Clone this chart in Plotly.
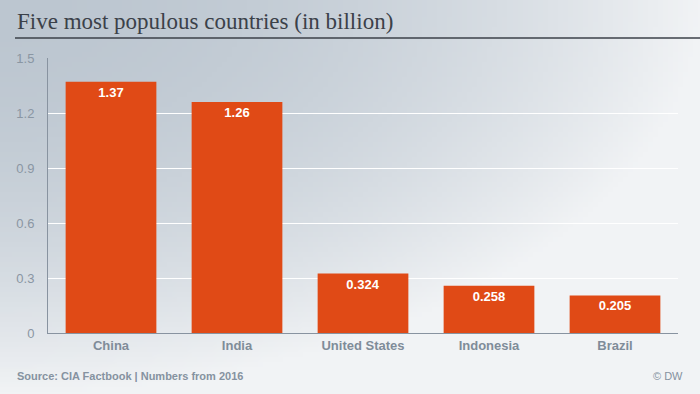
import base64, struct, zlib, math
import plotly.graph_objects as go

countries = ["China", "India", "United States", "Indonesia", "Brazil"]
population_bn = [1.37, 1.26, 0.324, 0.258, 0.205]
value_labels = ["1.37", "1.26", "0.324", "0.258", "0.205"]
y_ticks = [0, 0.3, 0.6, 0.9, 1.2, 1.5]
y_tick_labels = ["0", "0.3", "0.6", "0.9", "1.2", "1.5"]

W, H = 700, 394
ML, MR, MT, MB = 48, 22, 58, 61
PW, PH = W - ML - MR, H - MT - MB


def gradient_png(w=140, h=79):
    dark = (188, 198, 208)
    light = (241, 243, 245)
    rows = b""
    for j in range(h):
        row = b"\x00"
        for i in range(w):
            r = math.sqrt((i / (w - 1)) ** 2 + (j / (h - 1)) ** 2)
            t = min(1.0, r ** 2)
            c = [int(round(dark[k] + (light[k] - dark[k]) * t)) for k in range(3)]
            row += bytes(c)
        rows += row

    def chunk(tag, data):
        return struct.pack(">I", len(data)) + tag + data + struct.pack(">I", zlib.crc32(tag + data) & 0xffffffff)

    png = b"\x89PNG\r\n\x1a\n"
    png += chunk(b"IHDR", struct.pack(">IIBBBBB", w, h, 8, 2, 0, 0, 0))
    png += chunk(b"IDAT", zlib.compress(rows, 9))
    png += chunk(b"IEND", b"")
    return "data:image/png;base64," + base64.b64encode(png).decode()


def px_x(x):
    return (x - ML) / PW


def px_y(y):
    return 1 - (y - MT) / PH


fig = go.Figure(
    go.Bar(
        x=countries,
        y=population_bn,
        text=value_labels,
        textposition="inside",
        insidetextanchor="end",
        textangle=0,
        textfont=dict(family="Liberation Sans, Arial", size=13, color="white", weight="bold"),
        marker=dict(color="#e04a16", line=dict(width=0)),
        hoverinfo="skip",
        cliponaxis=False,
    )
)

fig.update_layout(
    width=W,
    height=H,
    margin=dict(l=ML, r=MR, t=MT, b=MB),
    paper_bgcolor="#f1f3f5",
    plot_bgcolor="rgba(0,0,0,0)",
    bargap=0.28,
    showlegend=False,
    font=dict(family="Liberation Sans, Arial", color="#8a96a3"),
    xaxis=dict(
        showgrid=False,
        showline=True,
        linecolor="#8893a0",
        linewidth=1,
        ticks="",
        tickfont=dict(size=13, color="#7f8c99", weight="bold"),
        fixedrange=True,
    ),
    yaxis=dict(
        range=[0, 1.5],
        tickvals=y_ticks,
        ticktext=y_tick_labels,
        showgrid=True,
        gridcolor="white",
        gridwidth=1,
        zeroline=False,
        showline=True,
        linecolor="#8893a0",
        linewidth=1,
        ticks="",
        ticklabelstandoff=10,
        tickfont=dict(size=13, color="#8a96a3"),
        fixedrange=True,
    ),
    images=[
        dict(
            source=gradient_png(),
            xref="paper",
            yref="paper",
            x=px_x(0),
            y=px_y(0),
            sizex=W / PW,
            sizey=H / PH,
            xanchor="left",
            yanchor="top",
            sizing="stretch",
            layer="below",
        )
    ],
    shapes=[
        dict(
            type="line",
            xref="paper",
            yref="paper",
            x0=px_x(15),
            x1=px_x(700),
            y0=px_y(38),
            y1=px_y(38),
            line=dict(color="#3b4149", width=1.5),
        )
    ],
    annotations=[
        dict(
            text="Five most populous countries (in billion)",
            xref="paper",
            yref="paper",
            x=px_x(15),
            y=px_y(21),
            xanchor="left",
            yanchor="middle",
            showarrow=False,
            font=dict(family="Liberation Serif, Georgia, serif", size=23, color="#3b4149"),
        ),
        dict(
            text="Source: CIA Factbook | Numbers from 2016",
            xref="paper",
            yref="paper",
            x=px_x(15),
            y=px_y(376),
            xanchor="left",
            yanchor="middle",
            showarrow=False,
            font=dict(size=11, color="#8592a0", weight="bold"),
        ),
        dict(
            text="© DW",
            xref="paper",
            yref="paper",
            x=px_x(685),
            y=px_y(376),
            xanchor="right",
            yanchor="middle",
            showarrow=False,
            font=dict(size=11, color="#8592a0"),
        ),
    ],
)

fig.write_html(
    "out.html",
    config={"displayModeBar": False, "staticPlot": True},
    post_script="document.body.style.margin='0';document.body.style.overflow='hidden';",
)
